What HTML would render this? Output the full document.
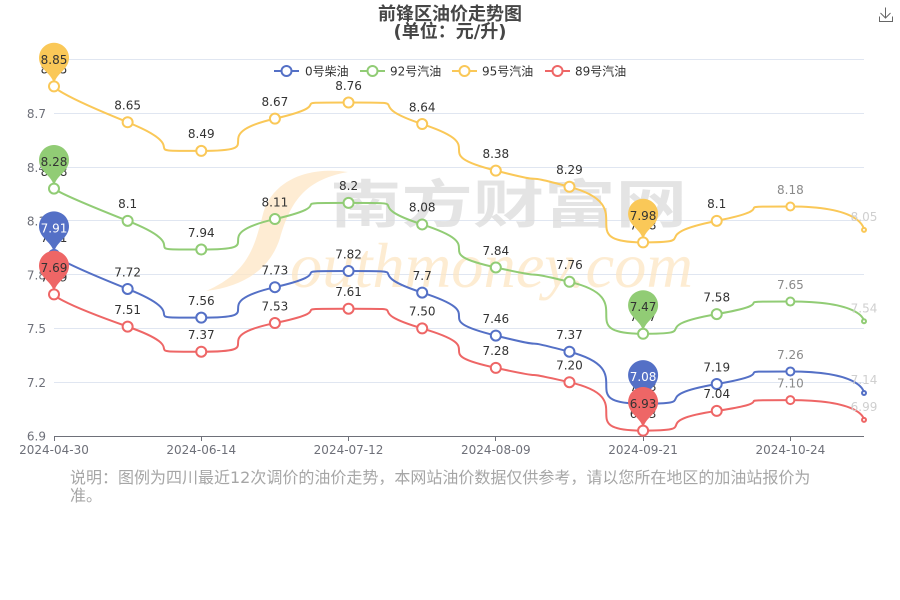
<!DOCTYPE html>
<html><head><meta charset="utf-8">
<style>
html,body{margin:0;padding:0;background:#fff;}
body{width:900px;height:600px;overflow:hidden;}
svg{display:block;}
.t{font-family:"DejaVu Sans","Noto Sans CJK SC",sans-serif;}
.lb{font-family:"DejaVu Sans",sans-serif;font-size:12px;fill:#333;text-anchor:middle;}
.ax{font-family:"DejaVu Sans",sans-serif;font-size:12px;fill:#6E7079;}
</style></head>
<body>
<svg width="900" height="600" viewBox="0 0 900 600" xmlns="http://www.w3.org/2000/svg">
<!-- title -->
<text x="450" y="20" text-anchor="middle" class="t" font-size="18" font-weight="bold" fill="#464646">前锋区油价走势图</text>
<text x="450" y="37.5" text-anchor="middle" class="t" font-size="18" font-weight="bold" fill="#464646">(单位：元/升)</text>
<!-- download icon -->
<g fill="none" stroke="#666" stroke-width="1">
<path d="M885.5,7.5 V18 M880.5,13 L885.5,18 L890.5,13"/>
<path d="M879.5,16.5 V21.5 H892.5 V16.5"/>
</g>
<!-- grid -->
<g stroke="#E0E6F1" stroke-width="1">
<line x1="54" y1="59.5" x2="864" y2="59.5"/>
<line x1="54" y1="113.5" x2="864" y2="113.5"/>
<line x1="54" y1="167.5" x2="864" y2="167.5"/>
<line x1="54" y1="220.5" x2="864" y2="220.5"/>
<line x1="54" y1="274.5" x2="864" y2="274.5"/>
<line x1="54" y1="328.5" x2="864" y2="328.5"/>
<line x1="54" y1="382.5" x2="864" y2="382.5"/>
</g>
<!-- watermark -->
<path d="M348,172 C305,166 272,182 263,214 C255,244 250,272 206,291 C242,287 270,270 280,238 C290,204 303,180 348,172 Z" fill="#fde6c4" opacity="0.75"/>
<text x="290" y="287" font-family="Liberation Serif,serif" font-style="italic" font-size="64" fill="#fde6c4" opacity="0.75" textLength="403" lengthAdjust="spacingAndGlyphs">outhmoney.com</text>
<text x="330" y="223" font-family="Noto Sans CJK SC,sans-serif" font-weight="bold" font-size="52" fill="#dcdcdc" opacity="0.75" textLength="357" lengthAdjust="spacingAndGlyphs">南方财富网</text>
<!-- x axis -->
<g stroke="#6E7079" stroke-width="1">
<line x1="54" y1="436.5" x2="864" y2="436.5"/>
<line x1="54.5" y1="436" x2="54.5" y2="441"/>
<line x1="201.5" y1="436" x2="201.5" y2="441"/>
<line x1="348.5" y1="436" x2="348.5" y2="441"/>
<line x1="495.5" y1="436" x2="495.5" y2="441"/>
<line x1="643.5" y1="436" x2="643.5" y2="441"/>
<line x1="790.5" y1="436" x2="790.5" y2="441"/>
</g>
<g class="ax" text-anchor="end">
<text x="46" y="118">8.7</text>
<text x="46" y="171.8">8.4</text>
<text x="46" y="225.6">8.1</text>
<text x="46" y="279.3">7.8</text>
<text x="46" y="333.1">7.5</text>
<text x="46" y="386.9">7.2</text>
<text x="46" y="440.6">6.9</text>
</g>
<g class="ax" text-anchor="middle">
<text x="54" y="454">2024-04-30</text>
<text x="201.27" y="454">2024-06-14</text>
<text x="348.55" y="454">2024-07-12</text>
<text x="495.82" y="454">2024-08-09</text>
<text x="643.09" y="454">2024-09-21</text>
<text x="790.36" y="454">2024-10-24</text>
</g>
<!-- legend -->
<g stroke-width="2" fill="#fff">
<line x1="274" y1="71" x2="299" y2="71" stroke="#5470c6"/><circle cx="286.5" cy="71" r="5" stroke="#5470c6"/>
<line x1="360" y1="71" x2="385" y2="71" stroke="#91cc75"/><circle cx="372.5" cy="71" r="5" stroke="#91cc75"/>
<line x1="452" y1="71" x2="477" y2="71" stroke="#fac858"/><circle cx="464.5" cy="71" r="5" stroke="#fac858"/>
<line x1="545" y1="71" x2="570" y2="71" stroke="#ee6666"/><circle cx="557.5" cy="71" r="5" stroke="#ee6666"/>
</g>
<g class="t" font-size="12" fill="#333">
<text x="305" y="75.5">0号柴油</text>
<text x="390" y="75.5">92号汽油</text>
<text x="482" y="75.5">95号汽油</text>
<text x="575" y="75.5">89号汽油</text>
</g>

<!-- ===== series 0: blue ===== -->
<path id="pb" fill="none" stroke="#5470c6" stroke-width="2" d="M54,254.92 L127.64,288.98 L201.27,317.67 L274.91,287.19 L348.55,271.05 L422.18,292.57 L495.82,335.6 L569.45,351.73 L643.09,403.73 L716.73,384.01 L790.36,371.46 L864,392.97"/>
<g class="lb">
<text x="54" y="242.2">7.91</text><text x="127.64" y="276.3">7.72</text><text x="201.27" y="305">7.56</text><text x="274.91" y="274.5">7.73</text><text x="348.55" y="258.4">7.82</text><text x="422.18" y="279.9">7.7</text><text x="495.82" y="322.9">7.46</text><text x="569.45" y="339">7.37</text><text x="643.09" y="391">7.08</text><text x="716.73" y="371.3">7.19</text><text x="790.36" y="358.8" fill="#8a8a8a">7.26</text><text x="864" y="384" fill="#cfcfcf">7.14</text>
</g>
<g fill="#5470c6">
<path transform="translate(54,254.92)" d="M-13.553,-22.143 A15,15 0 1 1 13.553,-22.143 C9.696,-14.011 0,-10.5 0,0 C0,-10.5 -9.696,-14.011 -13.553,-22.143 Z"/>
<path transform="translate(643.09,403.73)" d="M-13.553,-22.143 A15,15 0 1 1 13.553,-22.143 C9.696,-14.011 0,-10.5 0,0 C0,-10.5 -9.696,-14.011 -13.553,-22.143 Z"/>
</g>
<g fill="#fff" stroke="#5470c6" stroke-width="2">
<circle cx="54" cy="254.92" r="5"/><circle cx="127.64" cy="288.98" r="5"/><circle cx="201.27" cy="317.67" r="5"/><circle cx="274.91" cy="287.19" r="5"/><circle cx="348.55" cy="271.05" r="5"/><circle cx="422.18" cy="292.57" r="5"/><circle cx="495.82" cy="335.6" r="5"/><circle cx="569.45" cy="351.73" r="5"/><circle cx="643.09" cy="403.73" r="5"/><circle cx="716.73" cy="384.01" r="5"/><circle cx="790.36" cy="371.46" r="4"/><circle cx="864" cy="392.97" r="2"/>
</g>
<g class="lb" style="fill:#fff">
<text x="54" y="232.4">7.91</text><text x="643.09" y="381.2">7.08</text>
</g>

<!-- ===== series 1: green ===== -->
<path id="pg" fill="none" stroke="#91cc75" stroke-width="2" d="M54,188.58 L127.64,220.85 L201.27,249.54 L274.91,219.06 L348.55,202.92 L422.18,224.44 L495.82,267.47 L569.45,281.81 L643.09,333.8 L716.73,314.08 L790.36,301.53 L864,321.25"/>
<g class="lb">
<text x="54" y="175.9">8.28</text><text x="127.64" y="208.2">8.1</text><text x="201.27" y="236.8">7.94</text><text x="274.91" y="206.4">8.11</text><text x="348.55" y="190.2">8.2</text><text x="422.18" y="211.7">8.08</text><text x="495.82" y="254.8">7.84</text><text x="569.45" y="269.1">7.76</text><text x="643.09" y="321.1">7.47</text><text x="716.73" y="301.4">7.58</text><text x="790.36" y="288.8" fill="#8a8a8a">7.65</text><text x="864" y="312.3" fill="#cfcfcf">7.54</text>
</g>
<g fill="#91cc75">
<path transform="translate(54,188.58)" d="M-13.553,-22.143 A15,15 0 1 1 13.553,-22.143 C9.696,-14.011 0,-10.5 0,0 C0,-10.5 -9.696,-14.011 -13.553,-22.143 Z"/>
<path transform="translate(643.09,333.8)" d="M-13.553,-22.143 A15,15 0 1 1 13.553,-22.143 C9.696,-14.011 0,-10.5 0,0 C0,-10.5 -9.696,-14.011 -13.553,-22.143 Z"/>
</g>
<g fill="#fff" stroke="#91cc75" stroke-width="2">
<circle cx="54" cy="188.58" r="5"/><circle cx="127.64" cy="220.85" r="5"/><circle cx="201.27" cy="249.54" r="5"/><circle cx="274.91" cy="219.06" r="5"/><circle cx="348.55" cy="202.92" r="5"/><circle cx="422.18" cy="224.44" r="5"/><circle cx="495.82" cy="267.47" r="5"/><circle cx="569.45" cy="281.81" r="5"/><circle cx="643.09" cy="333.8" r="5"/><circle cx="716.73" cy="314.08" r="5"/><circle cx="790.36" cy="301.53" r="4"/><circle cx="864" cy="321.25" r="2"/>
</g>
<g class="lb">
<text x="54" y="166">8.28</text><text x="643.09" y="311.2">7.47</text>
</g>

<!-- ===== series 2: yellow ===== -->
<path id="py" fill="none" stroke="#fac858" stroke-width="2" d="M54,86.38 L127.64,122.24 L201.27,150.93 L274.91,118.66 L348.55,102.52 L422.18,124.04 L495.82,170.65 L569.45,186.79 L643.09,242.37 L716.73,220.85 L790.36,206.51 L864,229.82"/>
<g class="lb">
<text x="54" y="73.7">8.85</text><text x="127.64" y="109.5">8.65</text><text x="201.27" y="138.2">8.49</text><text x="274.91" y="106">8.67</text><text x="348.55" y="89.8">8.76</text><text x="422.18" y="111.3">8.64</text><text x="495.82" y="158">8.38</text><text x="569.45" y="174.1">8.29</text><text x="643.09" y="229.7">7.98</text><text x="716.73" y="208.2">8.1</text><text x="790.36" y="193.8" fill="#8a8a8a">8.18</text><text x="864" y="220.8" fill="#cfcfcf">8.05</text>
</g>
<g fill="#fac858">
<path transform="translate(54,86.38)" d="M-13.553,-22.143 A15,15 0 1 1 13.553,-22.143 C9.696,-14.011 0,-10.5 0,0 C0,-10.5 -9.696,-14.011 -13.553,-22.143 Z"/>
<path transform="translate(643.09,242.37)" d="M-13.553,-22.143 A15,15 0 1 1 13.553,-22.143 C9.696,-14.011 0,-10.5 0,0 C0,-10.5 -9.696,-14.011 -13.553,-22.143 Z"/>
</g>
<g fill="#fff" stroke="#fac858" stroke-width="2">
<circle cx="54" cy="86.38" r="5"/><circle cx="127.64" cy="122.24" r="5"/><circle cx="201.27" cy="150.93" r="5"/><circle cx="274.91" cy="118.66" r="5"/><circle cx="348.55" cy="102.52" r="5"/><circle cx="422.18" cy="124.04" r="5"/><circle cx="495.82" cy="170.65" r="5"/><circle cx="569.45" cy="186.79" r="5"/><circle cx="643.09" cy="242.37" r="5"/><circle cx="716.73" cy="220.85" r="5"/><circle cx="790.36" cy="206.51" r="4"/><circle cx="864" cy="229.82" r="2"/>
</g>
<g class="lb">
<text x="54" y="63.8">8.85</text><text x="643.09" y="219.8">7.98</text>
</g>

<!-- ===== series 3: red ===== -->
<path id="pr" fill="none" stroke="#ee6666" stroke-width="2" d="M54,294.36 L127.64,326.63 L201.27,351.73 L274.91,323.05 L348.55,308.7 L422.18,328.43 L495.82,367.87 L569.45,382.21 L643.09,430.62 L716.73,410.9 L790.36,400.14 L864,419.86"/>
<g class="lb">
<text x="54" y="281.7">7.69</text><text x="127.64" y="313.9">7.51</text><text x="201.27" y="339">7.37</text><text x="274.91" y="310.4">7.53</text><text x="348.55" y="296">7.61</text><text x="422.18" y="315.7">7.50</text><text x="495.82" y="355.2">7.28</text><text x="569.45" y="369.5">7.20</text><text x="643.09" y="417.9">6.93</text><text x="716.73" y="398.2">7.04</text><text x="790.36" y="387.4" fill="#8a8a8a">7.10</text><text x="864" y="410.9" fill="#cfcfcf">6.99</text>
</g>
<g fill="#ee6666">
<path transform="translate(54,294.36)" d="M-13.553,-22.143 A15,15 0 1 1 13.553,-22.143 C9.696,-14.011 0,-10.5 0,0 C0,-10.5 -9.696,-14.011 -13.553,-22.143 Z"/>
<path transform="translate(643.09,430.62)" d="M-13.553,-22.143 A15,15 0 1 1 13.553,-22.143 C9.696,-14.011 0,-10.5 0,0 C0,-10.5 -9.696,-14.011 -13.553,-22.143 Z"/>
</g>
<g fill="#fff" stroke="#ee6666" stroke-width="2">
<circle cx="54" cy="294.36" r="5"/><circle cx="127.64" cy="326.63" r="5"/><circle cx="201.27" cy="351.73" r="5"/><circle cx="274.91" cy="323.05" r="5"/><circle cx="348.55" cy="308.7" r="5"/><circle cx="422.18" cy="328.43" r="5"/><circle cx="495.82" cy="367.87" r="5"/><circle cx="569.45" cy="382.21" r="5"/><circle cx="643.09" cy="430.62" r="5"/><circle cx="716.73" cy="410.9" r="5"/><circle cx="790.36" cy="400.14" r="4"/><circle cx="864" cy="419.86" r="2"/>
</g>
<g class="lb">
<text x="54" y="271.8">7.69</text><text x="643.09" y="408.1">6.93</text>
</g>

<!-- footer -->
<g class="t" font-size="16" fill="#a6a6a6">
<text x="70" y="483">说明：图例为四川最近12次调价的油价走势，本网站油价数据仅供参考，请以您所在地区的加油站报价为</text>
<text x="70" y="501">准。</text>
</g>
</svg>
<script>
(function(){
var X=[54,127.64,201.27,274.91,348.55,422.18,495.82,569.45,643.09,716.73,790.36,864];
var S={
pb:[254.92,288.98,317.67,287.19,271.05,292.57,335.60,351.73,403.73,384.01,371.46,392.97],
pg:[188.58,220.85,249.54,219.06,202.92,224.44,267.47,281.81,333.80,314.08,301.53,321.25],
py:[86.38,122.24,150.93,118.66,102.52,124.04,170.65,186.79,242.37,220.85,206.51,229.82],
pr:[294.36,326.63,351.73,323.05,308.70,328.43,367.87,382.21,430.62,410.90,400.14,419.86]};
function sm(ys){
  var n=ys.length,s=1;
  var d='M'+X[0]+','+ys[0];
  var cpx0=X[0],cpy0=ys[0],ncx=0,ncy=0;
  for(var i=1;i<n;i++){
    var x=X[i],y=ys[i],cpx1,cpy1;
    if(i<n-1){
      var px=X[i-1],py=ys[i-1],nx=X[i+1],ny=ys[i+1];
      var vx=nx-px,vy=ny-py;
      var lp=Math.sqrt((x-px)*(x-px)+(y-py)*(y-py)),ln=Math.sqrt((nx-x)*(nx-x)+(ny-y)*(ny-y));
      var r=ln/(ln+lp);
      ncx=x+vx*s*r;ncy=y+vy*s*r;
      ncx=Math.min(ncx,Math.max(nx,x));ncy=Math.min(ncy,Math.max(ny,y));
      ncx=Math.max(ncx,Math.min(nx,x));ncy=Math.max(ncy,Math.min(ny,y));
      vx=ncx-x;vy=ncy-y;
      cpx1=x-vx*lp/ln;cpy1=y-vy*lp/ln;
      cpx1=Math.min(cpx1,Math.max(px,x));cpy1=Math.min(cpy1,Math.max(py,y));
      cpx1=Math.max(cpx1,Math.min(px,x));cpy1=Math.max(cpy1,Math.min(py,y));
      vx=x-cpx1;vy=y-cpy1;
      ncx=x+vx*ln/lp;ncy=y+vy*ln/lp;
    }else{cpx1=x;cpy1=y;}
    d+=' C'+cpx0.toFixed(2)+','+cpy0.toFixed(2)+' '+cpx1.toFixed(2)+','+cpy1.toFixed(2)+' '+x+','+y;
    cpx0=ncx;cpy0=ncy;
  }
  return d;
}
for(var k in S){var el=document.getElementById(k);if(el)el.setAttribute('d',sm(S[k]));}
})();
</script>
</body></html>
